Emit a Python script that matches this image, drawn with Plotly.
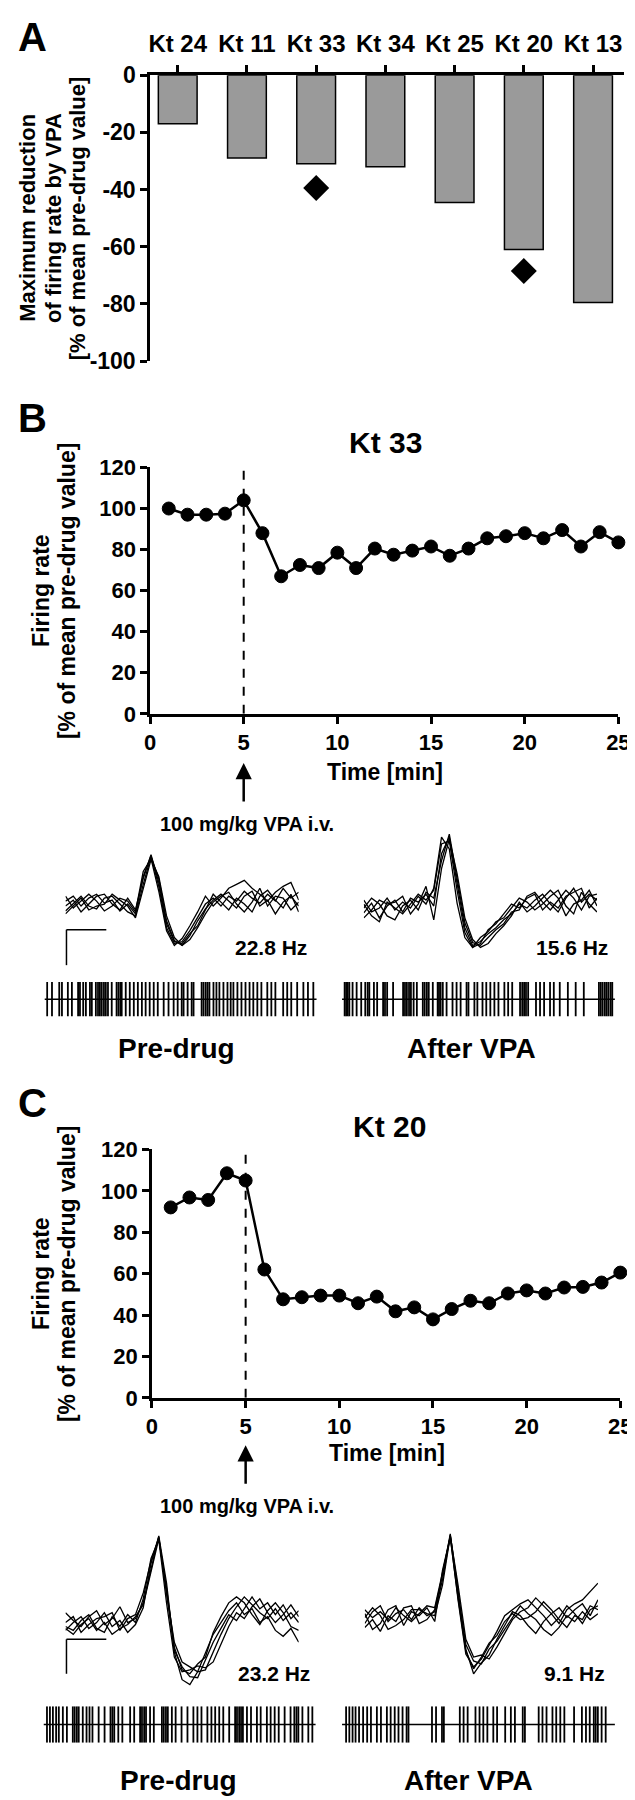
import plotly.graph_objects as go

W, H = 635, 1800
FONT = "Liberation Sans, Arial, Helvetica, sans-serif"

# ---------------- Panel A data ----------------
units = ["Kt 24", "Kt 11", "Kt 33", "Kt 34", "Kt 25", "Kt 20", "Kt 13"]
max_reduction = [-17, -29, -31, -32, -44.5, -61, -79.5]
diamond_units = ["Kt 33", "Kt 20"]
diamond_values = [-39.5, -68.5]
a_ticks = [0, -20, -40, -60, -80, -100]
a_tick_text = ["0", "-20", "-40", "-60", "-80", "-100"]

# ---------------- Panels B / C time courses ----------------
time_min = list(range(1, 26))
kt33_rate = [100, 97, 97, 97.5, 104, 88, 67, 72.5, 71, 78.5, 71, 80.5, 77.5, 79.5, 81.5,
             77, 80.5, 85.5, 86.5, 88, 85.5, 89.5, 81.5, 88.5, 83.5]
kt20_rate = [92, 96.8, 95.6, 108.5, 105, 62, 47.6, 48.6, 49.4, 49.4, 45.7, 48.9, 41.8, 43.7,
             37.9, 42.9, 46.9, 45.7, 50.4, 51.9, 50.4, 53.3, 53.6, 55.7, 60.5]
time_ticks = [0, 5, 10, 15, 20, 25]
rate_ticks = [0, 20, 40, 60, 80, 100, 120]
injection_time = 5

# ---------------- Spike waveforms (amplitude per sample) ----------------
samples = list(range(31))
wave_b_pre = [
    [5, 10, 0, 8, 12, 3, 6, -5, 2, -8, 30, 51, 20, -22, -38, -36, -25, -12, 2, 8, 0, 10, 5, 15, 8, 3, 12, 5, 18, 8, 14],
    [-5, 3, 10, 0, -3, 8, 10, 2, -6, -10, 22, 50, 28, -15, -35, -40, -30, -15, -3, 6, 12, 5, -2, 10, 15, 0, 6, -8, 4, 10, 0],
    [10, -2, 5, 12, 5, -5, 0, 8, 5, -6, 35, 48, 15, -25, -40, -33, -20, -6, 10, 0, 8, 18, 22, 26, 18, 12, 5, 14, 20, 24, 6],
    [0, 6, -6, 2, 10, 12, 2, -4, 8, -4, 28, 52, 24, -18, -36, -38, -28, -20, -4, 12, 4, -4, 8, 2, -6, 10, 16, 6, -2, 12, -6],
    [-8, 0, 8, -4, 0, 2, 12, 6, 0, -12, 18, 47, 30, -10, -32, -40, -34, -22, -8, 4, 10, 14, 2, -6, 4, 18, 0, 10, 8, -4, 4],
]
wave_b_post = [
    [-5, 5, -10, 2, 8, -4, 10, 6, 14, 2, 55, 72, 25, -20, -38, -34, -26, -20, -12, -6, 4, 0, 8, 14, 4, -4, 10, 20, 6, 14, 8],
    [8, -4, 0, 10, -2, 6, 0, 12, 4, 20, 72, 60, 5, -30, -40, -30, -24, -14, -10, 0, 10, 6, -2, 4, 12, 18, 2, -6, 16, 4, -4],
    [0, 10, 4, -8, -12, 2, 8, -2, 16, 10, 48, 75, 30, -15, -35, -38, -30, -22, -16, -4, -2, 12, 16, 6, -2, 8, 18, 10, -2, 12, 14],
    [-10, -2, 8, 4, 6, 12, -6, 4, 22, -12, 40, 70, 35, -10, -32, -40, -36, -26, -18, -8, 6, -4, 2, 10, 18, 10, -8, 4, 8, 18, 2],
    [4, -8, -14, 6, 0, -6, 4, 14, 8, 18, 65, 68, 18, -25, -40, -36, -22, -16, -6, 4, 0, 10, 14, -2, 6, 0, 12, 16, 20, 0, 10],
]
wave_c_pre = [
    [10, 2, -4, 6, 12, -2, 4, 16, 0, 4, 20, 55, 88, 40, -30, -58, -63, -50, -30, -12, 0, 12, 20, 8, 14, 0, 6, -8, -14, -6, -20],
    [-8, 0, 6, -6, 0, 10, -4, 2, -10, -2, 15, 60, 86, 30, -20, -40, -45, -50, -48, -30, -12, 4, 16, 26, 18, 10, 4, 14, 2, 10, 0],
    [-4, -8, 2, 8, -6, -10, 6, -4, 8, 0, 24, 65, 84, 20, -35, -50, -48, -44, -46, -40, -22, -4, 10, 4, 16, 24, 10, 0, 8, 18, 6],
    [0, 6, -10, -2, 4, 6, 10, -8, 4, 8, 30, 62, 87, 28, -28, -45, -55, -56, -38, -20, -6, 8, 2, 14, 26, 14, 20, 8, 18, 4, 12],
    [-6, -12, -2, 4, -8, 0, -12, -6, -2, 6, 18, 50, 85, 35, -25, -48, -52, -42, -35, -10, 6, 20, 26, 20, 8, -2, 12, 20, 10, -4, -8],
]
wave_c_post = [
    [-4, 8, 14, -2, 6, 10, 0, 12, 4, 8, 40, 86, 30, -30, -55, -44, -36, -20, -6, 8, 4, -6, -14, -2, 6, -4, 10, 16, 20, 28, 37],
    [6, -10, -4, 10, 14, -6, 8, 4, 12, -2, 50, 84, 20, -35, -48, -40, -26, -12, 4, 10, 16, 20, 12, 4, -6, 2, 14, 6, -4, 10, 14],
    [-8, 0, -12, 4, -2, 12, 14, -4, 0, 10, 45, 87, 25, -25, -42, -45, -30, -22, -10, 2, 14, 6, 0, -10, -16, -8, 4, -2, 8, 0, 6],
    [2, 12, 4, -10, -6, 0, 10, 10, 6, 4, 35, 85, 35, -20, -38, -36, -40, -28, -14, 0, 8, 12, 22, 14, 6, 12, 2, 10, 16, 4, 20],
    [10, 2, 8, 0, 12, 4, -2, 6, 14, 12, 48, 83, 22, -32, -50, -38, -24, -16, -2, 6, 0, 2, 8, 18, 10, 0, -8, 4, 0, 14, 10],
]
rate_labels = ["22.8 Hz", "15.6 Hz", "23.2 Hz", "9.1 Hz"]

# ---------------- Spike rasters (relative time 0-100) ----------------
raster_b_pre = [0.4, 2.2, 4.9, 5.9, 8.1, 9.6, 11.9, 12.6, 13.8, 14.8, 16.3, 17, 18.5, 19.3, 20, 20.7,
                21.5, 22.2, 23, 24.4, 26.2, 26.9, 27.6, 28.1, 29.6, 31.1, 32.6, 34.1, 35.6, 37, 38.5,
                40, 41.5, 43.7, 45.5, 47.4, 48.9, 50.4, 51.1, 52.6, 54.1, 54.8, 57.8, 58.5, 59.3, 60,
                60.7, 62.2, 63.3, 64.4, 65.9, 67.4, 68.6, 69.6, 71.1, 72.6, 74.1, 75.6, 77, 78.5, 80,
                82.2, 83.7, 85.2, 88.1, 89.6, 91.1, 93.3, 95.6, 97.3, 99.3]
raster_b_post = [0.4, 1, 1.6, 2.2, 3.4, 4.9, 6.6, 8.1, 9, 9.6, 11.3, 12.5, 14.7, 15.4, 16.2, 18.4,
                 22.1, 22.8, 23.5, 24.3, 25, 26, 27.2, 29.4, 30.1, 30.9, 31.6, 33.1, 34.9, 35.4, 36,
                 36.8, 38.2, 40.4, 41.9, 43.4, 45.6, 46.3, 48.5, 49.6, 51.5, 52.9, 54.4, 55.9, 57.4,
                 59.6, 61, 62.5, 65.4, 66.2, 66.9, 67.6, 68.4, 71.3, 72.8, 74.3, 76.5, 77.9, 80.1,
                 83.1, 86, 89, 94.6, 95.3, 96, 96.8, 97.5, 98.2, 99, 99.6]
raster_c_pre = [0.7, 1.8, 2.9, 4.1, 5.1, 6.6, 8.1, 10.3, 11, 11.8, 12.5, 14, 15.4, 16.5, 17.6, 19.9,
                22.1, 24.3, 25, 25.7, 27.2, 28.7, 31.6, 33.1, 35.3, 36, 36.8, 37.5, 39, 40.4, 43.4,
                44.1, 44.9, 45.6, 47.1, 48.5, 50.7, 52.9, 55.1, 56.6, 58.1, 60.3, 61.8, 63.2, 64.7,
                66.2, 68.4, 70.6, 71.3, 72.1, 72.8, 73.5, 75, 76.5, 78.7, 80.1, 82.4, 83.8, 85.3,
                86.8, 89, 91.2, 92.6, 93.4, 94.1, 95.6, 97.8, 99.3]
raster_c_post = [1, 2.2, 3.4, 4.5, 5.8, 7.3, 8.8, 10.2, 12.4, 13.9, 16.1, 17.5, 19, 20.4, 21.9, 23.4,
                 24.1, 32.8, 34.3, 36.5, 37.2, 43.1, 44.5, 46, 48.9, 50.4, 51.8, 53.3, 55.5, 56.9,
                 59.9, 62, 63.5, 66.4, 67.2, 72.3, 73.7, 75.2, 77.4, 78.8, 80.3, 81.8, 85.4, 88.3,
                 89.8, 91.2, 92.7, 93.4, 94.2, 95.6, 97.1]


def px(x):
    return x / W


def py(y):
    return 1 - y / H


fig = go.Figure()

# Panel A
fig.add_trace(go.Bar(x=units, y=max_reduction, width=0.56,
                     marker=dict(color="#9a9a9a", line=dict(color="black", width=1.5)),
                     xaxis="x", yaxis="y"))
fig.add_trace(go.Scatter(x=diamond_units, y=diamond_values, mode="markers",
                         marker=dict(symbol="diamond", size=20, color="black"),
                         xaxis="x", yaxis="y", cliponaxis=False))

# Panels B and C time courses
for xa, ya, vals in [("x2", "y2", kt33_rate), ("x3", "y3", kt20_rate)]:
    fig.add_trace(go.Scatter(x=time_min, y=vals, mode="lines+markers",
                             line=dict(color="black", width=2.5),
                             marker=dict(size=13, color="black", line=dict(color="black", width=1)),
                             xaxis=xa, yaxis=ya, cliponaxis=False))

# Waveforms
for n, group in zip([4, 5, 6, 7], [wave_b_pre, wave_b_post, wave_c_pre, wave_c_post]):
    for tr in group:
        fig.add_trace(go.Scatter(x=samples, y=tr, mode="lines",
                                 line=dict(color="black", width=1.3),
                                 xaxis=f"x{n}", yaxis=f"y{n}", cliponaxis=False))

# Rasters
for n, times in zip([8, 9, 10, 11], [raster_b_pre, raster_b_post, raster_c_pre, raster_c_post]):
    xs, ys = [], []
    for t in times:
        xs += [t, t, None]
        ys += [0, 1, None]
    fig.add_trace(go.Scatter(x=xs, y=ys, mode="lines", line=dict(color="black", width=1.8),
                             xaxis=f"x{n}", yaxis=f"y{n}", cliponaxis=False))

tickfont = dict(family=FONT, size=22, color="black", weight="bold")
ax_common = dict(showgrid=False, zeroline=False, showline=True, linecolor="black", linewidth=2.5,
                 ticks="outside", tickcolor="black", tickwidth=2.5, ticklen=7, tickfont=tickfont)

layout = dict(
    width=W, height=H, margin=dict(l=0, r=0, t=0, b=0),
    paper_bgcolor="white", plot_bgcolor="white", showlegend=False,
    font=dict(family=FONT, color="black"),
    xaxis=dict(ax_common, domain=[px(140), px(628)], anchor="y", side="top", type="category",
               categoryorder="array", categoryarray=units, range=[-0.4, 6.45],
               tickfont=dict(tickfont, size=24), ticklabelstandoff=4),
    yaxis=dict(ax_common, domain=[py(345), py(55)], anchor="x", range=[-100, 0],
               tickvals=a_ticks, ticktext=a_tick_text, tickfont=dict(tickfont, size=23)),
    xaxis2=dict(ax_common, domain=[px(140), px(622)], anchor="y2", range=[0, 25], tickvals=time_ticks),
    yaxis2=dict(ax_common, domain=[py(703), py(453)], anchor="x2", range=[0, 120], tickvals=rate_ticks),
    xaxis3=dict(ax_common, domain=[px(142), px(624)], anchor="y3", range=[0, 25], tickvals=time_ticks),
    yaxis3=dict(ax_common, domain=[py(1397), py(1145)], anchor="x3", range=[0, 120], tickvals=rate_ticks),
)

# hidden axes for waveforms: (x0 px, baseline px, y-range)
wave_boxes = {4: (53, 898, -60, 100), 5: (360, 900, -60, 100), 6: (53, 1625, -80, 100), 7: (361, 1622, -80, 100)}
for n, (x0, base, lo, hi) in wave_boxes.items():
    layout[f"xaxis{n}"] = dict(visible=False, domain=[px(x0), px(x0 + 240)], range=[0, 30], anchor=f"y{n}")
    layout[f"yaxis{n}"] = dict(visible=False, domain=[py(base - lo), py(base - hi)], range=[lo, hi], anchor=f"x{n}")

raster_boxes = {8: (33, 310, 975, 1010), 9: (339, 617, 975, 1010), 10: (32, 309, 1710, 1747), 11: (339, 617, 1710, 1747)}
for n, (x0, x1, y0, y1) in raster_boxes.items():
    layout[f"xaxis{n}"] = dict(visible=False, domain=[px(x0), px(x1)], range=[0, 100], anchor=f"y{n}")
    layout[f"yaxis{n}"] = dict(visible=False, domain=[py(y1), py(y0)], range=[0, 1], anchor=f"x{n}")

shapes = []
# dashed injection lines
for xa, ya in [("x2", "y2"), ("x3", "y3")]:
    shapes.append(dict(type="line", xref=xa, yref=ya, x0=injection_time, x1=injection_time, y0=0, y1=120,
                       line=dict(color="black", width=2, dash="dash"), layer="below"))
# raster baselines
for n in [8, 9, 10, 11]:
    shapes.append(dict(type="line", xref=f"x{n} domain", yref=f"y{n}", x0=-0.005, x1=1.005, y0=0.5, y1=0.5,
                       line=dict(color="black", width=1.5)))
# scale bars
for (hx0, hx1, hy, vy) in [(54, 95, 922, 958), (54, 95, 1642, 1677)]:
    shapes.append(dict(type="line", xref="paper", yref="paper", x0=px(hx0), x1=px(hx1), y0=py(hy), y1=py(hy),
                       line=dict(color="black", width=1.5)))
    shapes.append(dict(type="line", xref="paper", yref="paper", x0=px(hx0), x1=px(hx0), y0=py(hy), y1=py(vy),
                       line=dict(color="black", width=1.5)))
layout["shapes"] = shapes


def text(x, y, s, size, bold=True, angle=0, xanchor="center"):
    return dict(x=px(x), y=py(y), xref="paper", yref="paper", text=s, showarrow=False,
                textangle=angle, xanchor=xanchor, yanchor="middle",
                font=dict(family=FONT, size=size, color="black", weight="bold" if bold else "normal"))


ann = [
    text(2, 16, "A", 40, xanchor="left"),
    text(2, 403, "B", 40, xanchor="left"),
    text(2, 1098, "C", 40, xanchor="left"),
    text(14, 200, "Maximum reduction", 22, angle=-90),
    text(40, 200, "of firing rate by VPA", 22, angle=-90),
    text(65, 200, "[% of mean pre-drug value]", 22, angle=-90),
    text(382, 428, "Kt 33", 30),
    text(386, 1122, "Kt 20", 30),
    text(27, 578, "Firing rate", 23, angle=-90),
    text(54, 578, "[% of mean pre-drug value]", 23, angle=-90),
    text(27, 1271, "Firing rate", 23, angle=-90),
    text(54, 1271, "[% of mean pre-drug value]", 23, angle=-90),
    text(382, 762, "Time [min]", 23),
    text(384, 1453, "Time [min]", 23),
    text(240, 815, "100 mg/kg VPA i.v.", 20),
    text(240, 1507, "100 mg/kg VPA i.v.", 20),
    text(265, 940, rate_labels[0], 21),
    text(574, 940, rate_labels[1], 21),
    text(268, 1677, rate_labels[2], 21),
    text(577, 1677, rate_labels[3], 21),
    text(167, 1043, "Pre-drug", 28),
    text(471, 1043, "After VPA", 28),
    text(169, 1785, "Pre-drug", 28),
    text(468, 1785, "After VPA", 28),
]
# arrows for injection
for xa, tip in [("x2", 753), ("x3", 1445)]:
    ann.append(dict(x=injection_time, xref=xa, y=py(tip), yref="paper", ax=0, ay=40, text="",
                    showarrow=True, arrowhead=2, arrowsize=1.3, arrowwidth=2.5, arrowcolor="black"))
layout["annotations"] = ann

fig.update_layout(**layout)
fig.write_html("out.html")
